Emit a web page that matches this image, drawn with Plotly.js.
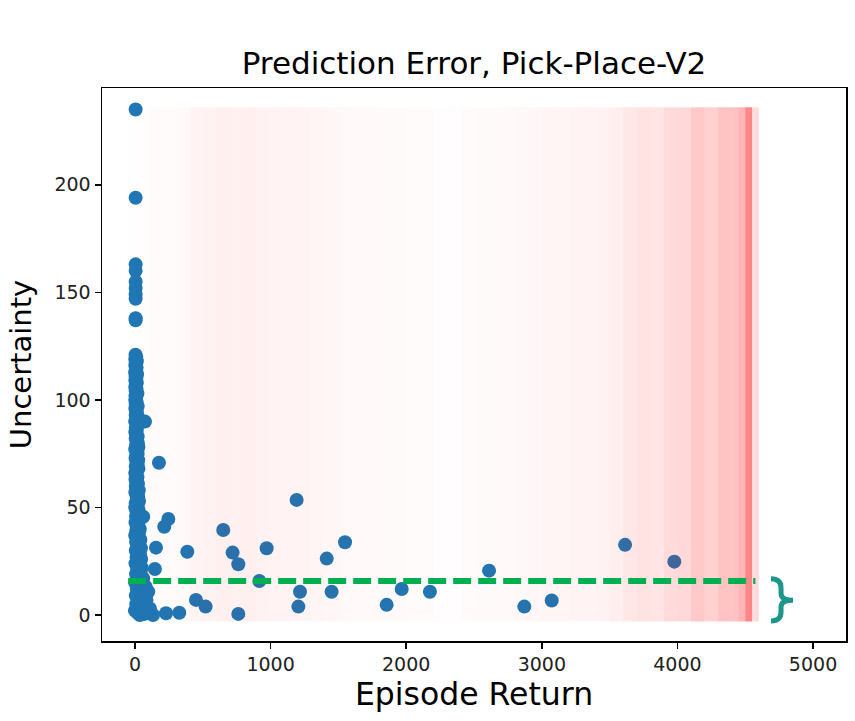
<!DOCTYPE html>
<html>
<head>
<meta charset="utf-8">
<script src="https://cdn.plot.ly/plotly-3.0.1.min.js"></script>
<style>html,body{margin:0;padding:0;background:#fff;}#chart{width:855px;height:721px;}</style>
</head>
<body>
<div id="chart"></div>
<script>
// Dense column of near-zero-return episodes
const columnReturn = [
  4, 10, 2, 14, 6, 3, 12, 8, 1, 16, 5, 10, 3, 14, 7, 2, 11, 6, 18, 4,
  9, 2, 13, 6, 20, 3, 10, 15, 5, 22, 8, 2, 12, 18, 6, 14, 3, 10, 20, 5,
  14, 22, 8, 25, 2, 16, 20, 10, 4, 24, 12, 20, 6, 26, 15, 2, 8, 18, 4, 12,
  22, 6, 16, 28, 3, 10, 24, 14, 30, 6, 20, 2, 26, 12, 34, 8, 18, 30, 4, 24,
  14, 36, 10, 28, 2, 20, 40, 8, 32, 16, 44, 6, 26, 38, 12, 46, 20, 4, 34, 50,
  16, 42, 8, 30, 55, 22, 2, 40, 60, 14, 48, 28, 6, 38, 20, 52, 10, 30, 44, 0, 18, 36
];
const columnUncertainty = [
  121, 120, 119, 118, 117, 116, 115, 114, 113, 112, 111, 110, 109, 108, 107, 106, 105, 104, 103, 102,
  101, 100, 99, 98, 97, 96, 95, 94, 93, 92, 91, 90, 89, 88, 87, 86, 85, 84, 83, 82,
  81, 80, 79, 78, 77, 76, 75, 74, 73, 72, 71, 70, 69, 68, 67, 66, 65, 64, 63, 62,
  61, 60, 59, 58, 57, 56, 55, 54, 53, 52, 51, 50, 49, 48, 47, 46, 45, 44, 43, 42,
  41, 40, 39, 38, 37, 36, 35, 34, 33, 32, 31, 30, 29, 28, 27, 26, 25, 24, 23, 22,
  21, 20, 19, 18, 17, 16, 15, 14, 13, 12, 11, 10, 9, 8, 7, 6, 5, 4, 3, 2, 1, 0
];
// Remaining episodes
const otherReturn = [
  5, 5, 5, 5, 5, 5, 5, 5, 5, 5,
  74, 61, 60, 80, 55, 90, 40, 70, 100, 133, 110, 85,
  61, 177, 246, 216, 651, 1192, 155, 386, 720, 762, 971, 1414, 1549, 147, 917,
  98, 1217, 1450, 450, 521, 1205, 1856, 762, 327, 229,
  1967, 2175, 2611, 2871, 3073, 3614, 3977
];
const otherUncertainty = [
  235, 194, 163, 160, 155, 152, 149, 147, 138, 137,
  89.9, 17, 6, 13, 9, 4, 2, 0.5, 1.5, 0, 3, 7,
  45.7, 70.8, 44.6, 41, 39.5, 53.5, 31.3, 29.4, 29, 23.6, 31, 26.2, 33.8, 21.4, 15.8,
  10.8, 10.8, 10.8, 7, 3.9, 3.9, 4.7, 0.5, 1, 0.8,
  12.1, 10.8, 20.6, 3.9, 6.7, 32.6, 24.8
];

// Red density band drawn over the points (bin edges in episode return, intensity 0..1)
const bandEdges = [0,100,200,300,400,500,600,700,800,900,1000,1100,1200,1300,1400,1500,1600,1700,1800,1900,2000,
  2100,2200,2300,2400,2500,2600,2700,2800,2900,3000,3100,3200,3300,3400,3500,3600,3700,3800,3900,4000,
  4100,4200,4300,4400,4450,4500,4550,4600];
const bandIntensity = [0.02,0.03,0.03,0.04,0.09,0.11,0.13,0.12,0.13,0.11,0.10,0.10,0.09,0.08,0.07,0.06,0.05,0.05,0.04,0.04,
  0.03,0.03,0.02,0.02,0.03,0.04,0.04,0.05,0.06,0.07,0.08,0.08,0.09,0.10,0.11,0.14,0.20,0.24,0.22,0.30,
  0.32,0.45,0.38,0.50,0.52,0.62,1.00,0.30];
const bandY = [-3, 236];
const bandMaxAlpha = 0.47;

// Threshold line
const thresholdX = [-50, 4575];
const thresholdY = [15.8, 15.8];

const xTicks = [0, 1000, 2000, 3000, 4000, 5000];
const yTicks = [0, 50, 100, 150, 200];

const FONT = 'DejaVu Sans, sans-serif';

const traces = [
  {
    type: 'scatter',
    mode: 'markers',
    x: columnReturn.concat(otherReturn),
    y: columnUncertainty.concat(otherUncertainty),
    marker: {color: '#1f77b4', size: 14, opacity: 1, line: {width: 0}},
    showlegend: false
  }
];

// band cells as filled polygons, drawn after the points so they tint them
for (let i = 0; i < bandIntensity.length; i++) {
  const x0 = bandEdges[i], x1 = bandEdges[i + 1];
  traces.push({
    type: 'scatter',
    mode: 'none',
    x: [x0, x1, x1, x0, x0],
    y: [bandY[0], bandY[0], bandY[1], bandY[1], bandY[0]],
    fill: 'toself',
    fillcolor: 'rgba(255,0,0,' + (bandMaxAlpha * bandIntensity[i]).toFixed(4) + ')',
    line: {width: 0},
    hoverinfo: 'skip',
    showlegend: false
  });
}

traces.push({
  type: 'scatter',
  mode: 'lines',
  x: thresholdX,
  y: thresholdY,
  line: {color: '#00b050', width: 6, dash: '18px,7px'},
  showlegend: false,
  hoverinfo: 'skip'
});

const layout = {
  width: 855,
  height: 721,
  margin: {l: 102, r: 9, t: 88, b: 80},
  paper_bgcolor: '#fff',
  plot_bgcolor: '#fff',
  font: {family: FONT, color: '#000'},
  showlegend: false,
  title: {
    text: 'Prediction Error, Pick-Place-V2',
    font: {family: FONT, size: 31, color: '#000'},
    x: 0.5, xref: 'paper', xanchor: 'center',
    y: 0.912, yref: 'container', yanchor: 'middle'
  },
  xaxis: {
    range: [-243, 5243],
    tickmode: 'array',
    tickvals: xTicks,
    ticktext: xTicks.map(String),
    showgrid: false, zeroline: false,
    showline: true, mirror: true, linecolor: '#000', linewidth: 1.5,
    ticks: 'outside', ticklen: 6, tickwidth: 1.5, tickcolor: '#000',
    tickfont: {family: FONT, size: 19, color: '#222'},
    title: {text: 'Episode Return', font: {family: FONT, size: 31.5, color: '#000'}, standoff: 8}
  },
  yaxis: {
    range: [-12.1, 245],
    tickmode: 'array',
    tickvals: yTicks,
    ticktext: yTicks.map(String),
    showgrid: false, zeroline: false,
    showline: true, mirror: true, linecolor: '#000', linewidth: 1.5,
    ticks: 'outside', ticklen: 6, tickwidth: 1.5, tickcolor: '#000',
    tickfont: {family: FONT, size: 19, color: '#222'},
    title: {text: 'Uncertainty', font: {family: FONT, size: 29, color: '#000'}, standoff: 14}
  },
  shapes: [
    {
      type: 'path',
      xref: 'x', yref: 'y',
      path: 'M 4690,16.8 Q 4764,16.8 4764,12.5 L 4764,10 Q 4764,6.9 4852,6.9 Q 4764,6.9 4764,3.8 L 4764,1.5 Q 4764,-2.8 4690,-2.8',
      line: {color: '#1f968b', width: 5},
      fillcolor: 'rgba(0,0,0,0)'
    }
  ]
};

Plotly.newPlot('chart', traces, layout, {displayModeBar: false, staticPlot: true});
</script>
</body>
</html>
